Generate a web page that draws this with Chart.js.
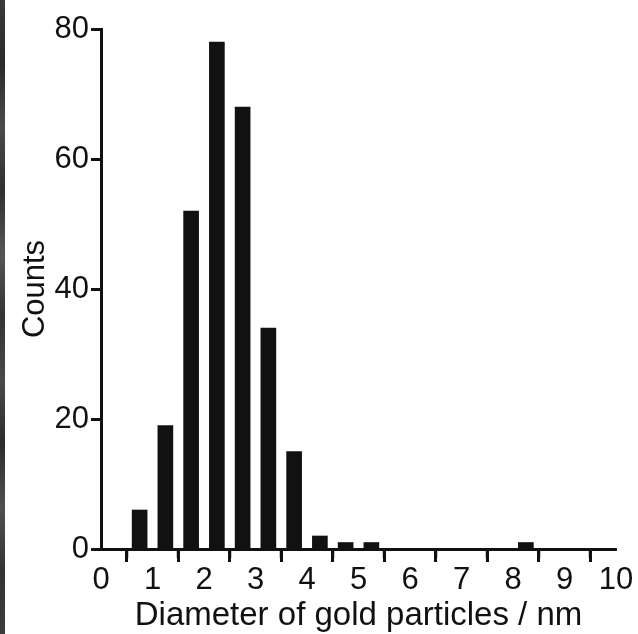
<!DOCTYPE html>
<html>
<head>
<meta charset="utf-8">
<script src="https://cdn.jsdelivr.net/npm/chart.js@4/dist/chart.umd.min.js"></script>
<style>
  html, body { margin: 0; padding: 0; background: #fff; }
  #wrap { position: relative; width: 638px; height: 634px; }
  #stripe { position: absolute; left: 0; top: 0; width: 5px; height: 634px;
    background: linear-gradient(to bottom, #3a3a3a 0%, #2a2a2a 10%, #4a4a4a 20%, #303030 30%, #555 40%, #333 50%, #4a4a4a 60%, #2c2c2c 70%, #505050 80%, #333 90%, #3c3c3c 100%); }
  canvas { position: absolute; left: 0; top: 0; }
</style>
</head>
<body>
<div id="wrap">
  <canvas id="c" width="638" height="634"></canvas>
  <div id="stripe"></div>
</div>
<script>
// Histogram data (bin centres in nm, counts)
const binCenters = [0.75, 1.25, 1.75, 2.25, 2.75, 3.25, 3.75, 4.25, 4.75, 5.25, 5.75, 6.25, 6.75, 7.25, 7.75, 8.25];
const counts     = [6, 19, 52, 78, 68, 34, 15, 2, 1, 1, 0, 0, 0, 0, 0, 1];
const xTickValues = [0, 1, 2, 3, 4, 5, 6, 7, 8, 9, 10];
const xMinorTicks = [0.5, 1.5, 2.5, 3.5, 4.5, 5.5, 6.5, 7.5, 8.5, 9.5];
const yTickValues = [0, 20, 40, 60, 80];
const xTitle = 'Diameter of gold particles / nm';
const yTitle = 'Counts';

const FONT = 'Liberation Sans, Arial, Helvetica, sans-serif';
const INK = '#111111';

const minorTickPlugin = {
  id: 'minorTicks',
  afterDraw(chart) {
    const xs = chart.scales.x;
    const ctx = chart.ctx;
    const y0 = chart.chartArea.bottom;
    ctx.save();
    ctx.strokeStyle = INK;
    ctx.lineWidth = 3;
    xMinorTicks.forEach(v => {
      const px = xs.getPixelForValue(v);
      ctx.beginPath();
      ctx.moveTo(px, y0);
      ctx.lineTo(px, y0 + 9);
      ctx.stroke();
    });
    ctx.restore();
  }
};

new Chart(document.getElementById('c'), {
  type: 'bar',
  data: {
    datasets: [{
      data: binCenters.map((x, i) => ({ x: x, y: counts[i] })),
      backgroundColor: INK,
      borderWidth: 0,
      barThickness: 15
    }]
  },
  options: {
    responsive: false,
    animation: false,
    layout: { padding: { left: 0, right: 22, top: 29, bottom: 0 } },
    plugins: { legend: { display: false }, tooltip: { enabled: false } },
    scales: {
      x: {
        type: 'linear',
        offset: false,
        min: 0, max: 10,
        afterBuildTicks(scale) { scale.ticks = xTickValues.map(v => ({ value: v })); },
        afterFit(scale) { scale.height = 85; },
        ticks: { font: { family: FONT, size: 31 }, color: INK, padding: 0, maxRotation: 0, autoSkip: false },
        grid: { drawOnChartArea: false, tickLength: 13, tickWidth: 3, tickColor: INK },
        border: { display: true, color: INK, width: 3 },
        title: { display: true, text: xTitle, font: { family: FONT, size: 33 }, color: INK, padding: { top: 0, bottom: -2 } }
      },
      y: {
        min: 0, max: 80,
        afterBuildTicks(scale) { scale.ticks = yTickValues.map(v => ({ value: v })); },
        afterFit(scale) { scale.width = 101; },
        ticks: { font: { family: FONT, size: 31 }, color: INK, padding: 2 },
        grid: { drawOnChartArea: false, tickLength: 10, tickWidth: 3, tickColor: INK },
        border: { display: true, color: INK, width: 3 },
        title: { display: true, text: yTitle, font: { family: FONT, size: 31 }, color: INK, padding: { top: 17, bottom: 0 } }
      }
    }
  },
  plugins: [minorTickPlugin]
});
</script>
</body>
</html>
